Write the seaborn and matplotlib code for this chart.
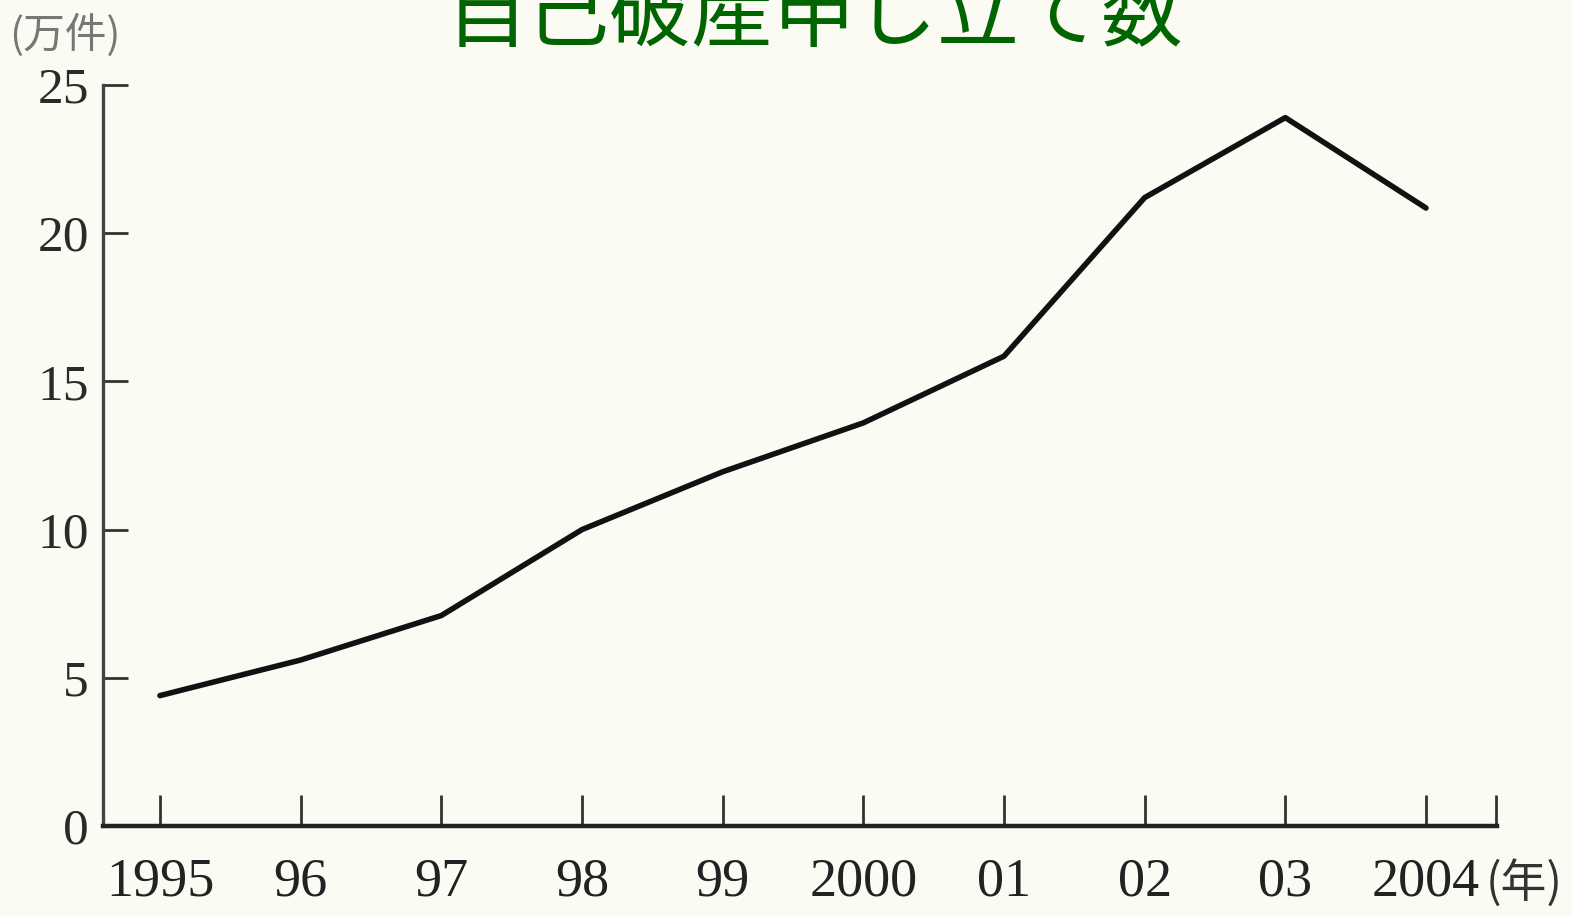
import matplotlib
matplotlib.use("Agg")
import matplotlib.pyplot as plt
import seaborn as sns
import pandas as pd

years = [1995, 1996, 1997, 1998, 1999, 2000, 2001, 2002, 2003, 2004]
filings = [4.4, 5.6, 7.1, 10.0, 11.95, 13.6, 15.85, 21.2, 23.9, 20.85]
x_labels = ["1995", "96", "97", "98", "99", "2000", "01", "02", "03", "2004"]
y_ticks = [0, 5, 10, 15, 20, 25]
title = "自己破産申し立て数"
y_unit = "(万件)"
x_unit = "(年)"

sns.set_theme(style="ticks")
plt.rcParams['font.family'] = ['Liberation Serif', 'Noto Sans CJK JP']

bg = "#fcfbf3"
fig = plt.figure(figsize=(15.72, 9.16), dpi=100, facecolor=bg)
ax = fig.add_axes([103/1572, 1-826/916, (1497-103)/1572, (826-85)/916])
ax.set_facecolor(bg)

df = pd.DataFrame({"year": years, "value": filings})
sns.lineplot(data=df, x="year", y="value", ax=ax, color="#111111", linewidth=4.0)

ax.set_xlim(1994.595, 2004.505)
ax.set_ylim(0, 25)
ax.set_xticks(years)
ax.set_xticklabels(x_labels)
ax.set_xticks([2004.5], minor=True)
ax.set_yticks(y_ticks)
ax.set_yticklabels([str(v) for v in y_ticks])
ax.set_xlabel("")
ax.set_ylabel("")

for s in ["top", "right"]:
    ax.spines[s].set_visible(False)
ax.spines["left"].set_color("#444444")
ax.spines["left"].set_linewidth(2.4)
ax.spines["bottom"].set_color("#222222")
ax.spines["bottom"].set_linewidth(3.2)

ax.tick_params(axis="y", direction="in", length=18, width=2, color="#333333",
               labelsize=37, labelcolor="#2a2a2a", pad=10)
ax.tick_params(axis="x", which="both", direction="in", length=22, width=2,
               color="#333333", labelsize=39, labelcolor="#222222", pad=22)

fig.text(0.518, 1 - 40/916, title, ha="center", va="baseline", color="#006400",
         fontsize=59, family=["Noto Sans CJK JP"])
fig.text(0.006, 0.962, y_unit, ha="left", va="center", color="#777777",
         fontsize=30, family=["Noto Sans CJK JP"])
fig.text(0.945, 0.035, x_unit, ha="left", va="center", color="#333333",
         fontsize=33, family=["Noto Sans CJK JP"])

fig.savefig("out.png", dpi=100, facecolor=bg)
